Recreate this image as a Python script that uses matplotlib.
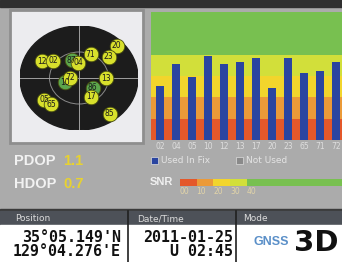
import numpy as np
import matplotlib
matplotlib.use('Agg')
import matplotlib.pyplot as plt
from matplotlib.patches import Rectangle, Circle

W, H = 342, 262

# satellites on the sky plot (azimuth deg, elevation deg)
sat_ids = ['87', '10', '86', '12', '02', '04', '71', '20', '23', '72', '13', '17', '05', '65', '85']
sat_az = [340, 251, 129, 297, 307, 358, 23, 46, 51, 272, 91, 151, 235, 223, 143]
sat_el = [57, 67, 63, 27, 41, 64, 45, 10, 32, 77, 49, 53, 25, 28, 12]
sat_green = [True, True, True] + [False] * 12

# signal strength bars
prn = ['02', '04', '05', '10', '12', '13', '17', '20', '23', '65', '71', '72']
snr = [25.3, 35.6, 29.5, 39.4, 35.6, 36.6, 38.4, 24.4, 38.4, 31.4, 32.3, 36.6]

snr_edges = [0, 10, 20, 30, 40, 99]
snr_colors = ['#e4582a', '#eb9a38', '#f2d52c', '#d2df3a', '#78c050']
snr_ticks = [0, 10, 20, 30, 40, 99]
snr_ticklabels = ['00', '10', '20', '30', '40', '99']

pdop, hdop = '1.1', '0.7'
lat, lon = "35°05.149'N", "129°04.276'E"
date, time = '2011-01-25', 'U 02:45'

narrow = ['Liberation Sans Narrow', 'Liberation Sans', 'DejaVu Sans']


def box(x0, y0, x1, y1):
    return [x0 / W, 1 - y1 / H, (x1 - x0) / W, (y1 - y0) / H]


fig = plt.figure(figsize=(W / 100, H / 100), dpi=100, facecolor='#ababab')

# pixel-space background layer
bg = fig.add_axes([0, 0, 1, 1])
bg.set_xlim(0, W)
bg.set_ylim(H, 0)
bg.axis('off')
bg.add_patch(Rectangle((0, 0), W, 7, color='#2f2f2f'))
bg.add_patch(Rectangle((10, 10), 133, 133, facecolor='#ececef', edgecolor='#8e8e8e', lw=2))

# bottom info panel
bg.add_patch(Rectangle((0, 209), W, 2, color='#3a3a3a'))
bg.add_patch(Rectangle((0, 211), W, 14, color='#4d5158'))
bg.add_patch(Rectangle((0, 225), W, H - 225, color='white'))
for xv in [128, 236]:
    bg.plot([xv, xv], [211, H], color='#202020', lw=1.2)
bg.text(15, 218.5, 'Position', color='#dcdcdc', fontsize=6.5, va='center')
bg.text(137, 218.5, 'Date/Time', color='#dcdcdc', fontsize=6.5, va='center')
bg.text(243, 218.5, 'Mode', color='#dcdcdc', fontsize=6.5, va='center')
mono = dict(family='DejaVu Sans Mono', fontweight='bold', fontsize=10.8, color='#111111', va='center', ha='right')
bg.text(121, 237, lat, **mono)
bg.text(121, 252, lon, **mono)
bg.text(233, 237, date, **mono)
bg.text(233, 252, time, **mono)
bg.text(253, 242, 'GNSS', family=narrow, fontweight='bold', fontsize=9, color='#5a8fc8', va='center')
bg.text(338, 243, '3D', fontweight='bold', fontsize=21, color='#111111', va='center', ha='right')

# DOP values
dop = dict(family=narrow, fontweight='bold', fontsize=10.5, va='center')
bg.text(14, 161, 'PDOP', color='#f2f2f2', **dop)
bg.text(63, 161, pdop, color='#e8d230', **dop)
bg.text(14, 184, 'HDOP', color='#f2f2f2', **dop)
bg.text(63, 184, hdop, color='#e8d230', **dop)

# legend
bg.add_patch(Rectangle((151, 157), 7, 7, facecolor='#2a45a0', edgecolor='#dddddd', lw=0.5))
bg.text(161, 160.5, 'Used In Fix', color='#e4e4e4', fontsize=6.5, va='center')
bg.add_patch(Rectangle((236, 157), 7, 7, facecolor='#8a8a8a', edgecolor='#dddddd', lw=0.5))
bg.text(246, 160.5, 'Not Used', color='#e4e4e4', fontsize=6.5, va='center')
bg.text(150, 182, 'SNR', family=narrow, fontweight='bold', fontsize=8, color='#f0f0f0', va='center')

# sky plot
sky = fig.add_axes(box(20, 26, 138, 130))
sky.set_xlim(-1, 1)
sky.set_ylim(-1, 1)
sky.axis('off')
sky.add_patch(Circle((0, 0), 1, color='#1c1c1c'))
sky.add_patch(Circle((0, 0), 0.5, fill=False, edgecolor='#8a8a8a', lw=0.7))
sky.plot([-1, 1], [0, 0], color='#a0a0a0', lw=0.7)
sky.plot([0, 0], [-1, 1], color='#a0a0a0', lw=0.7)
az = np.radians(sat_az)
r = (90 - np.array(sat_el)) / 90
sx, sy = r * np.sin(az), r * np.cos(az)
for x, y, name, green in zip(sx, sy, sat_ids, sat_green):
    sky.scatter(x, y, s=110, color='#5ca64c' if green else '#d8e02c',
                edgecolors='#4a5010', linewidths=0.6, zorder=3, clip_on=False)
    sky.text(x, y, name, fontsize=5.5, color='#1a1a1a', ha='center', va='center', zorder=4)

# SNR bar chart
ax = fig.add_axes(box(151, 12, 342, 140))
for lo, hi, c in zip(snr_edges[:-1], snr_edges[1:], snr_colors):
    ax.axhspan(lo, hi, color=c, lw=0)
ax.bar(range(len(prn)), snr, width=0.5, color='#2a45a0')
ax.set_ylim(0, 60)
ax.set_xlim(-0.5625, 11.375)
ax.set_yticks([])
ax.set_xticks(range(len(prn)))
ax.set_xticklabels(prn)
ax.tick_params(axis='x', length=0, pad=1.5, labelsize=5.5, labelcolor='#dedede')
for s in ax.spines.values():
    s.set_visible(False)

# SNR colour scale
sc = fig.add_axes(box(180, 179, 345, 186))
for lo, hi, c in zip(snr_edges[:-1], snr_edges[1:], snr_colors):
    sc.axvspan(lo, hi, color=c, lw=0)
sc.set_xlim(0, 99)
sc.set_yticks([])
sc.set_xticks(snr_ticks)
sc.set_xticklabels(snr_ticklabels)
sc.tick_params(axis='x', length=0, pad=1, labelsize=5.5, labelcolor='#e2d4a8')
plt.setp(sc.get_xticklabels(), ha='left')
for s in sc.spines.values():
    s.set_visible(False)

fig.savefig('out.png', dpi=100, facecolor=fig.get_facecolor())
